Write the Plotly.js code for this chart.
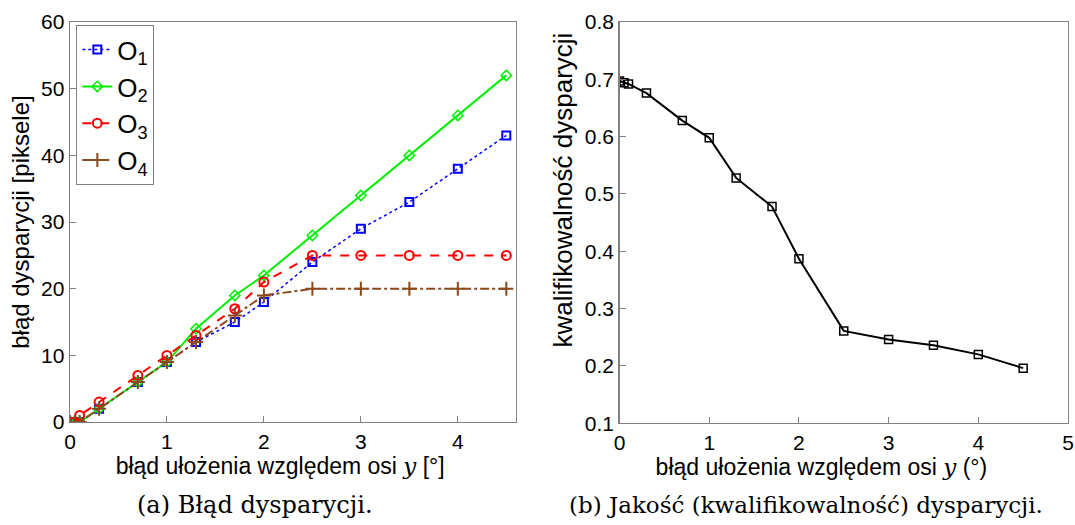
<!DOCTYPE html>
<html><head><meta charset="utf-8">
<script src="https://cdn.plot.ly/plotly-3.0.1.min.js"></script>
<style>body{margin:0;background:#fff}#c{width:1075px;height:525px}</style>
</head><body><div id="c"></div>
<script>
const xA = [0, 0.05, 0.1, 0.3, 0.7, 1, 1.3, 1.7, 2, 2.5, 3, 3.5, 4, 4.5];
const o1 = [0, 0, 0, 2, 6, 9, 12, 15, 18, 24, 29, 33, 38, 43];
const o2 = [0, 0, 0, 2, 6, 9, 14, 19, 22, 28, 34, 40, 46, 52];
const o3 = [0, 0, 1, 3, 7, 10, 13, 17, 21, 25, 25, 25, 25, 25];
const o4 = [0, 0, 0, 2, 6, 9, 12, 16, 19, 20, 20, 20, 20, 20];
const xB = [0, 0.05, 0.1, 0.3, 0.7, 1, 1.3, 1.7, 2, 2.5, 3, 3.5, 4, 4.5];
const quality = [0.697, 0.694, 0.692, 0.676, 0.628, 0.598, 0.528, 0.478, 0.387, 0.261, 0.246, 0.236, 0.220, 0.196];
const seriesNames = ['O<sub>1</sub>', 'O<sub>2</sub>', 'O<sub>3</sub>', 'O<sub>4</sub>'];

const brown = '#8c4a1c';
const traces = [
  {x: xA, y: o1, name: seriesNames[0], mode: 'lines+markers', line: {color: '#0000ff', dash: 'dot', width: 1.5}, marker: {symbol: 'square-open', size: 8, color: '#0000ff', line: {width: 2}}},
  {x: xA, y: o2, name: seriesNames[1], mode: 'lines+markers', line: {color: '#00ee00', dash: 'solid', width: 2}, marker: {symbol: 'diamond-open', size: 8, color: '#00ee00', line: {width: 1.5}}},
  {x: xA, y: o3, name: seriesNames[2], mode: 'lines+markers', line: {color: '#ff0000', dash: 'dash', width: 2}, marker: {symbol: 'circle-open', size: 9, color: '#ff0000', line: {width: 2}}},
  {x: xA, y: o4, name: seriesNames[3], mode: 'lines+markers', line: {color: brown, dash: 'dashdot', width: 2}, marker: {symbol: 'cross-thin-open', size: 10, color: brown, line: {width: 2, color: brown}}},
  {x: xB, y: quality, xaxis: 'x2', yaxis: 'y2', showlegend: false, mode: 'lines+markers', line: {color: '#000', width: 2}, marker: {symbol: 'square-open', size: 8, color: '#000', line: {width: 1.5}}}
];

const fam = 'Liberation Sans, Arial, sans-serif';
const tickFont = {family: fam, size: 21, color: '#000'};
const axBase = {showline: true, mirror: true, linecolor: '#808080', linewidth: 1.3, ticks: 'inside', ticklen: 6, tickcolor: '#808080', tickfont: tickFont, showgrid: false, zeroline: false};
const yItal = '<span style="font-family:DejaVu Serif"><i>y</i></span>';
const pad = n => '&nbsp;'.repeat(n);

const layout = {
  width: 1075, height: 525,
  margin: {l: 0, r: 0, t: 0, b: 0},
  paper_bgcolor: '#fff', plot_bgcolor: '#fff',
  showlegend: true,
  legend: {x: 0.071, y: 0.952, xanchor: 'left', yanchor: 'top', bordercolor: '#808080', borderwidth: 1, bgcolor: '#fff',
           font: {family: fam, size: 26, color: '#000'}, itemwidth: 30, tracegroupgap: 0},
  xaxis: Object.assign({}, axBase, {domain: [0.0651, 0.48], range: [0, 4.6], tickvals: [0, 1, 2, 3, 4], anchor: 'y',
    title: {text: 'błąd ułożenia względem osi ' + yItal + ' [°]' + pad(4), font: {family: fam, size: 23, color: '#000'}, standoff: 2}}),
  yaxis: Object.assign({}, axBase, {domain: [0.196, 0.958], range: [0, 60], tickvals: [0, 10, 20, 30, 40, 50, 60], anchor: 'x',
    title: {text: 'błąd dysparycji [piksele]', font: {family: fam, size: 24, color: '#000'}, standoff: 4}}),
  xaxis2: Object.assign({}, axBase, {domain: [0.5763, 0.9935], range: [0, 5], tickvals: [0, 1, 2, 3, 4, 5], anchor: 'y2',
    title: {text: 'błąd ułożenia względem osi ' + yItal + ' (°)' + pad(7), font: {family: fam, size: 23, color: '#000'}, standoff: 2}}),
  yaxis2: Object.assign({}, axBase, {domain: [0.194, 0.958], range: [0.1, 0.8], tickvals: [0.1, 0.2, 0.3, 0.4, 0.5, 0.6, 0.7, 0.8], tickformat: '.1f', anchor: 'x2',
    title: {text: pad(9) + 'kwalifikowalność dysparycji', font: {family: fam, size: 26, color: '#000'}, standoff: 4}}),
  annotations: [
    {text: '(a) Błąd dysparycji.', xref: 'paper', yref: 'paper', x: 0.237, y: 0.038, xanchor: 'center', yanchor: 'middle', showarrow: false,
     font: {family: 'DejaVu Serif, Liberation Serif, serif', size: 24, color: '#000'}},
    {text: '(b) Jakość (kwalifikowalność) dysparycji.', xref: 'paper', yref: 'paper', x: 0.75, y: 0.038, xanchor: 'center', yanchor: 'middle', showarrow: false,
     font: {family: 'DejaVu Serif, Liberation Serif, serif', size: 23, color: '#000'}}
  ]
};

Plotly.newPlot('c', traces, layout, {displayModeBar: false, staticPlot: true});
</script>
</body></html>
